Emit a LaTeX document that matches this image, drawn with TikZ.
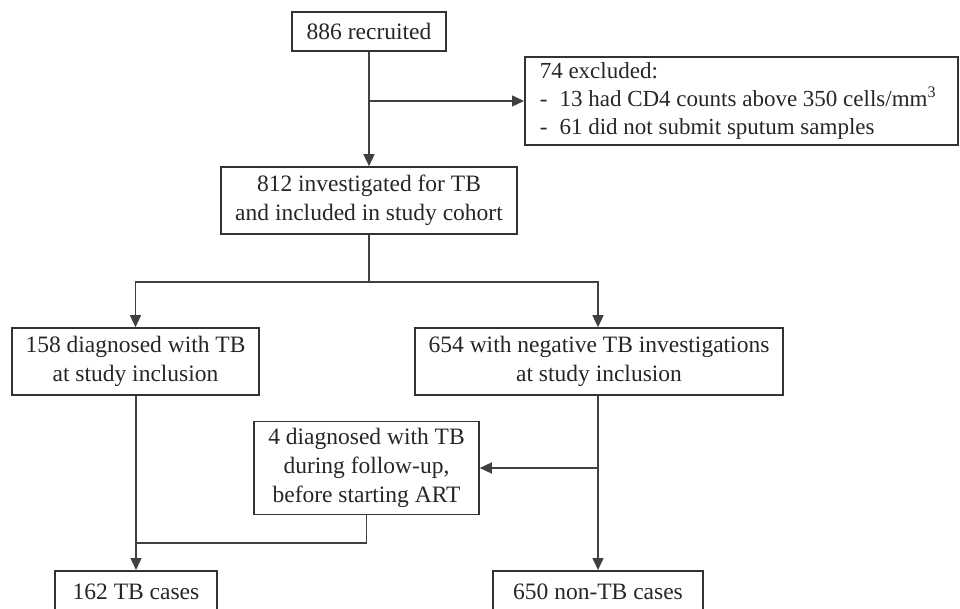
\documentclass[tikz,border=0pt]{standalone}
\usepackage{fontspec}
\setmainfont{Liberation Serif}
\usetikzlibrary{arrows.meta}
\begin{document}
\begin{tikzpicture}[x=1pt,y=-1pt,
  txt/.style={font=\fontsize{23.5}{29}\selectfont,text=black!85},
  box/.style={txt,draw=black!80,line width=1.6pt,inner sep=0pt,align=center},
  arr/.style={draw=black!75,line width=1.4pt,-{Triangle[length=12pt,width=11pt]}},
  ln/.style={draw=black!75,line width=1.4pt}]
\useasboundingbox (0,0) rectangle (960,609);
\clip (0,0) rectangle (960,609);
\node[box,minimum width=154pt,minimum height=39pt] (rec) at (369,31.5) {886 recruited};
\node[box,anchor=west,minimum height=88pt,inner sep=0pt,font=\fontsize{23}{27.5}\selectfont] (exc) at (524,101)
{\makebox[433pt][l]{\begin{tabular}{@{\hspace{15pt}}l@{}}74 excluded:\\
-\; 13 had CD4 counts above 350 cells/mm\textsuperscript{3}\\
-\; 61 did not submit sputum samples\end{tabular}}};
\node[box,minimum width=296pt,minimum height=67pt] (coh) at (369,200.5) {812 investigated for TB\\and included in study cohort};
\node[box,minimum width=247pt,minimum height=67pt] (tb) at (135.5,361.5) {158 diagnosed with TB\\at study inclusion};
\node[box,minimum width=368pt,minimum height=67pt] (neg) at (599,361.5) {654 with negative TB investigations\\at study inclusion};
\node[box,minimum width=225pt,minimum height=93pt] (fu) at (366.5,468) {4 diagnosed with TB\\during follow-up,\\before starting ART};
\node[box,minimum width=162pt,minimum height=60pt,anchor=north] (tbc) at (136,570) {};
\node[txt,anchor=base] (tbct) at (136,599) {162 TB cases};
\node[box,minimum width=210pt,minimum height=60pt,anchor=north] (ntb) at (598,570) {};
\node[txt,anchor=base] (ntbt) at (598,599) {650 non-TB cases};
\coordinate (b1) at (369,101);
\coordinate (sp) at (369,282);
\coordinate (b2) at (598,468);
\coordinate (j) at (136,543);
\draw[arr] (rec.south) -- (coh.north);
\draw[arr] (b1) -- (exc.west);
\draw[ln] (coh.south) -- (sp);
\draw[arr] (sp) -| (tb.north);
\draw[arr] (sp) -| (neg.north -| b2);
\draw[arr] (neg.south -| b2) -- (ntb.north);
\draw[arr] (b2) -- (fu.east);
\draw[ln] (fu.south) |- (j);
\draw[arr] (tb.south -| j) -- (tbc.north);
\end{tikzpicture}
\end{document}
